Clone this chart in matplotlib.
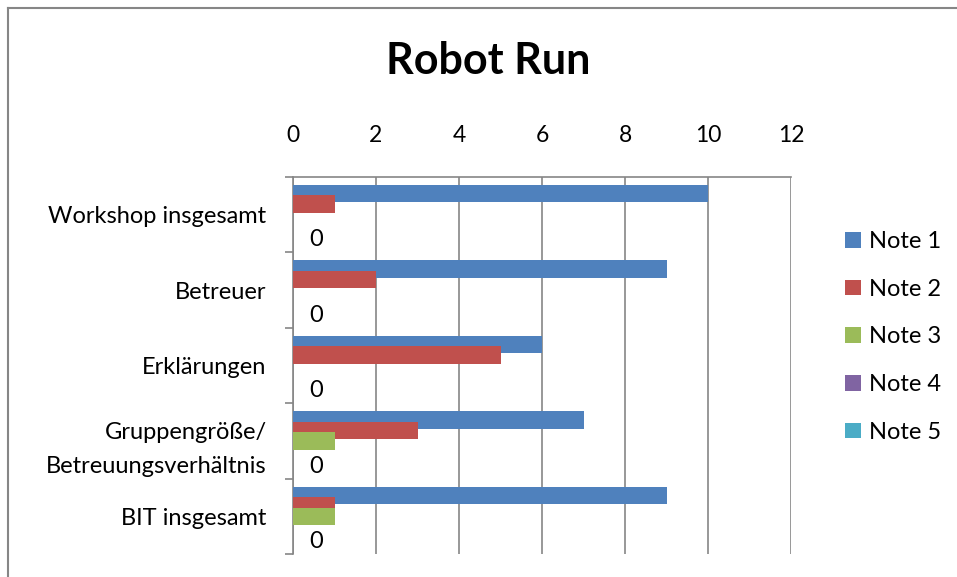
import numpy as np
import matplotlib.pyplot as plt
from matplotlib.lines import Line2D

plt.rcParams['font.family'] = ['Lato', 'DejaVu Sans']

categories = ['Workshop insgesamt', 'Betreuer', 'Erklärungen',
              'Gruppengröße/\nBetreuungsverhältnis', 'BIT insgesamt']
series = ['Note 1', 'Note 2', 'Note 3', 'Note 4', 'Note 5']
note1 = [10, 9, 6, 7, 9]
note2 = [1, 2, 5, 3, 1]
note3 = [0, 0, 0, 1, 1]
note4 = [0, 0, 0, 0, 0]
note5 = [0, 0, 0, 0, 0]
colors = ['#4F81BD', '#C0504D', '#9BBB59', '#8064A2', '#4BACC6']
xticks = [0, 2, 4, 6, 8, 10, 12]

values = [note1, note2, note3, note4, note5]

fig = plt.figure(figsize=(9.57, 5.77), dpi=100)
ax = fig.add_axes([293/957, 1 - 554/577, (791-293)/957, (554-177)/577])

y = np.arange(len(categories))
h = 0.232
step = 0.139
handles = []
for i, (vals, name, c) in enumerate(zip(values, series, colors)):
    b = ax.barh(y + (i - 2) * step, vals, height=h, color=c, label=name, zorder=3 + i)
    handles.append(b)

# data labels only for the last series
for yy, v in zip(y + 2 * step, note5):
    ax.annotate(str(v), (v, yy), xytext=(12, -3), textcoords='offset points',
                ha='left', va='center', fontsize=17, zorder=10)

ax.set_xlim(0, 12)
ax.set_ylim(len(categories) - 0.5, -0.5)
ax.set_xticks(xticks)
ax.xaxis.tick_top()
ax.tick_params(axis='x', length=0, pad=22, labelsize=16.5)
ax.set_yticks(y)
ax.set_yticklabels(categories, fontsize=17, linespacing=1.75)
ax.set_yticks(np.arange(len(categories) + 1) - 0.5, minor=True)
ax.tick_params(axis='y', which='major', length=0, pad=19)
ax.tick_params(axis='y', which='minor', length=6, color='#868686', width=1.2)
ax.grid(axis='x', color='#868686', lw=1.2, zorder=0)
for s in ['right', 'bottom']:
    ax.spines[s].set_visible(False)
for s in ['left', 'top']:
    ax.spines[s].set_color('#868686')
    ax.spines[s].set_linewidth(1.2)

ax.legend(handles=handles, loc='center left', bbox_to_anchor=(836/957, 1 - 337/577),
          bbox_transform=fig.transFigure, frameon=False, fontsize=17,
          handlelength=0.65, handleheight=0.65, handletextpad=0.35, labelspacing=1.13,
          borderaxespad=0)

fig.text(488/957, 1 - 61/577, 'Robot Run', ha='center', va='center',
         fontsize=31, fontweight='bold')

# chart area border (left and top only visible)
fig.add_artist(Line2D([8/957, 8/957], [0, 1 - 8/577], color='#868686', lw=1.5,
                      transform=fig.transFigure))
fig.add_artist(Line2D([8/957, 1], [1 - 8/577, 1 - 8/577], color='#868686', lw=1.5,
                      transform=fig.transFigure))

fig.savefig('out.png', dpi=100)
